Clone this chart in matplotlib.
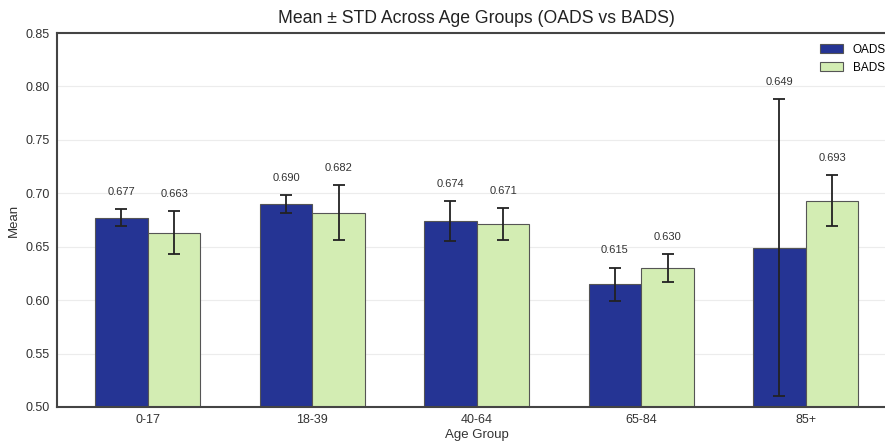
import numpy as np
import matplotlib
matplotlib.use('Agg')
import matplotlib.pyplot as plt

plt.rcParams['font.family'] = ['Liberation Sans', 'DejaVu Sans']

groups = ['0-17', '18-39', '40-64', '65-84', '85+']
oads_mean = [0.677, 0.690, 0.674, 0.615, 0.649]
oads_std = [0.008, 0.008, 0.019, 0.0155, 0.139]
bads_mean = [0.663, 0.682, 0.671, 0.630, 0.693]
bads_std = [0.020, 0.026, 0.015, 0.013, 0.024]

fig = plt.figure(figsize=(8.85, 4.41), dpi=100)
ax = fig.add_axes([0.0644, 0.0771, 0.9486, 0.848])

x = np.arange(len(groups))
width = 0.32
err_kw = dict(ecolor='#222222', elinewidth=1.3, capsize=4.5, capthick=1.3)

ax.bar(x - width / 2, oads_mean, width, yerr=oads_std, color='#253494',
       edgecolor='#555555', linewidth=0.8, label='OADS', error_kw=err_kw, zorder=2)
ax.bar(x + width / 2, bads_mean, width, yerr=bads_std, color='#d3edb3',
       edgecolor='#555555', linewidth=0.8, label='BADS', error_kw=err_kw, zorder=2)

# value labels sit just above the error bar caps
for i in range(len(groups)):
    ax.text(x[i] - width / 2, oads_mean[i] + oads_std[i] + 0.016, '%.3f' % oads_mean[i],
            ha='center', va='center', fontsize=8, color='#333333')
    ax.text(x[i] + width / 2, bads_mean[i] + bads_std[i] + 0.016, '%.3f' % bads_mean[i],
            ha='center', va='center', fontsize=8, color='#333333')

ax.set_ylim(0.50, 0.85)
ax.set_yticks(np.arange(0.50, 0.851, 0.05))
ax.set_xticks(x)
ax.set_xticklabels(groups)
ax.tick_params(axis='both', length=0, labelsize=9, labelcolor='#333333', pad=5)

ax.yaxis.grid(True, color='#ececec', linewidth=0.8, zorder=0)
ax.set_axisbelow(True)
for side in ['left', 'bottom', 'top', 'right']:
    ax.spines[side].set_color('#444444')
    ax.spines[side].set_linewidth(1.5)

ax.set_xlabel('Age Group', fontsize=9.5, color='#333333', labelpad=2)
ax.set_ylabel('Mean', fontsize=9.5, color='#333333')
ax.set_title('Mean \u00b1 STD Across Age Groups (OADS vs BADS)', fontsize=12.7,
             color='#222222', pad=7)
ax.legend(loc='upper right', frameon=False, fontsize=8.5)

fig.savefig('out.png', dpi=100)
